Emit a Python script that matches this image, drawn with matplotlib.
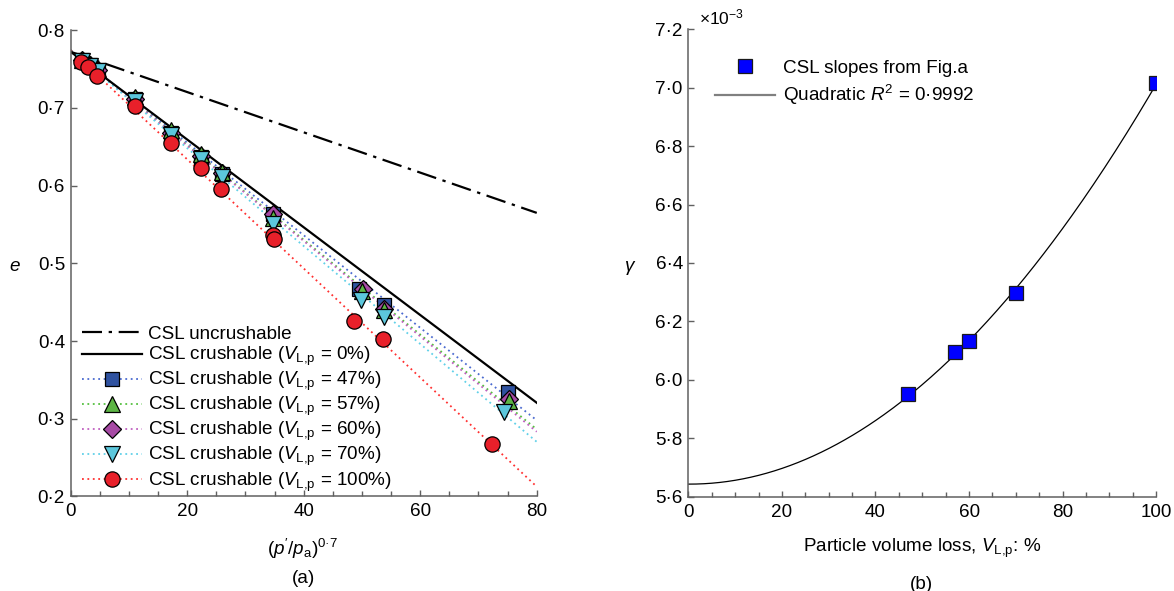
import numpy as np
import matplotlib
matplotlib.use("Agg")
import matplotlib.pyplot as plt
from matplotlib.lines import Line2D
from matplotlib.ticker import MultipleLocator, FuncFormatter

plt.rcParams['font.family'] = ['Liberation Sans', 'DejaVu Sans']
plt.rcParams['mathtext.fontset'] = 'custom'
plt.rcParams['mathtext.rm'] = 'Liberation Sans'
plt.rcParams['mathtext.it'] = 'Liberation Sans:italic'
plt.rcParams['mathtext.bf'] = 'Liberation Sans:bold'

# ---------------- data: panel (a) ----------------
x_range = [0, 80]
e0_uncrush = 0.772
slope_uncrush = 0.00259
e0_crush = 0.772          # intercept of CSL crushable (0 %)
e0_dotted = 0.774         # intercept of CSL lines for V_L,p > 0

vlp_labels = ["47%", "57%", "60%", "70%", "100%"]

x_47 = [1.9, 3.3, 4.7, 11.0, 17.3, 22.3, 26.0, 34.7, 49.5, 53.7, 75.1]
e_47 = [0.761, 0.755, 0.749, 0.711, 0.667, 0.637, 0.615, 0.563, 0.467, 0.446, 0.334]

x_57 = [1.9, 3.3, 4.7, 11.0, 17.3, 22.3, 26.0, 34.7, 50.0, 53.7, 75.3]
e_57 = [0.762, 0.756, 0.750, 0.714, 0.671, 0.641, 0.617, 0.558, 0.464, 0.440, 0.323]

x_60 = [1.9, 3.3, 4.7, 11.0, 17.3, 22.3, 26.0, 34.8, 50.1, 53.7, 75.2]
e_60 = [0.761, 0.755, 0.749, 0.711, 0.668, 0.638, 0.616, 0.564, 0.467, 0.441, 0.325]

x_70 = [1.9, 3.3, 4.7, 11.0, 17.3, 22.3, 26.0, 34.7, 49.8, 53.7, 74.3]
e_70 = [0.760, 0.754, 0.747, 0.709, 0.665, 0.634, 0.611, 0.551, 0.453, 0.431, 0.309]

x_100 = [1.8, 2.9, 4.6, 11.0, 17.3, 22.3, 25.8, 34.7, 34.9, 48.6, 53.6, 72.3]
e_100 = [0.759, 0.752, 0.741, 0.702, 0.655, 0.622, 0.595, 0.536, 0.531, 0.426, 0.403, 0.267]

# ---------------- data: panel (b) ----------------
vlp = [47, 57, 60, 70, 100]
gamma_e3 = [5.950, 6.095, 6.134, 6.296, 7.017]   # x 10^-3
gamma0_e3 = 5.643                                  # CSL crushable, V_L,p = 0 % (fit intercept)

# ---------------- figure ----------------
fig = plt.figure(figsize=(11.74, 5.91), dpi=100)
ax1 = fig.add_axes([0.0602, 0.1599, 0.397, 0.7893])
ax2 = fig.add_axes([0.5863, 0.1596, 0.3986, 0.7908])

spine_c = '#606060'
FS = 13.6
DOT = '\u00b7'
SUB = r'$V_{\mathrm{L{,}p}}$'

def style(ax):
    for s in ['top', 'right']:
        ax.spines[s].set_visible(False)
    for s in ['left', 'bottom']:
        ax.spines[s].set_color(spine_c)
        ax.spines[s].set_linewidth(1.1)
    ax.tick_params(axis='both', which='both', direction='in', color=spine_c,
                   width=1.0, labelsize=FS)
    ax.tick_params(axis='both', which='major', length=4)
    ax.tick_params(axis='both', which='minor', length=3.5)
    ax.tick_params(axis='x', pad=5)
    ax.tick_params(axis='y', pad=4)

dotfmt = FuncFormatter(lambda v, p: ("%.1f" % v).replace('.', DOT))

# ---- panel (a) ----
style(ax1)
xl = np.array(x_range, dtype=float)
DASHDOT = (0, (9, 3, 1.5, 3))
ax1.plot(xl, e0_uncrush - slope_uncrush * xl, color='black', lw=1.6, ls=DASHDOT, zorder=2)
ax1.plot(xl, e0_crush - gamma0_e3 * 1e-3 * xl, color='black', lw=1.6, zorder=2)

series = {
    '47': (x_47, e_47, 's', '#2f52a0', '#4a6ad0', 10.5),
    '57': (x_57, e_57, '^', '#5db545', '#55c040', 11),
    '60': (x_60, e_60, 'D', '#a74aa5', '#c060c0', 9),
    '70': (x_70, e_70, 'v', '#5cc7dc', '#60d0e8', 11),
    '100': (x_100, e_100, 'o', '#e8202a', '#ff3030', 11),
}
keys = ['47', '57', '60', '70', '100']
draw_order = ['47', '60', '57', '70', '100']

for k, g in zip(keys, gamma_e3):
    lc = series[k][4]
    ax1.plot(xl, e0_dotted - g * 1e-3 * xl, color=lc, lw=1.3, ls=(0, (1, 2)), zorder=1)
for i, k in enumerate(draw_order):
    xs, es, m, fc, lc, ms = series[k]
    ax1.plot(xs, es, ls='none', marker=m, ms=ms, mfc=fc, mec='black', mew=0.9, zorder=3 + i)

handles = [
    Line2D([], [], color='black', lw=1.6, ls=DASHDOT),
    Line2D([], [], color='black', lw=1.6),
]
labels = ['CSL uncrushable', 'CSL crushable (' + SUB + ' = 0%)']
for k, lab in zip(keys, vlp_labels):
    xs, es, m, fc, lc, ms = series[k]
    handles.append(Line2D([], [], color=lc, lw=1.3, ls=(0, (1, 2)), marker=m, ms=ms,
                          mfc=fc, mec='black', mew=0.9))
    labels.append('CSL crushable (' + SUB + ' = ' + lab + ')')

ax1.set_xlim(0, 80)
ax1.set_ylim(0.2, 0.8)
ax1.xaxis.set_major_locator(MultipleLocator(20))
ax1.xaxis.set_minor_locator(MultipleLocator(5))
ax1.yaxis.set_major_locator(MultipleLocator(0.1))
ax1.yaxis.set_major_formatter(dotfmt)
ax1.set_ylabel('e', style='italic', rotation=0, fontsize=FS, va='center', ha='center')
ax1.yaxis.set_label_coords(-0.1195, 0.492)
ax1.set_xlabel('$(p^{\\prime}/p_{\\mathrm{a}})^{\\mathrm{0' + DOT + '7}}$', fontsize=FS)
ax1.xaxis.set_label_coords(0.4985, -0.087)
ax1.text(0.4985, -0.175, '(a)', transform=ax1.transAxes, ha='center', va='center', fontsize=FS)
leg1 = ax1.legend(handles, labels, loc='lower left', bbox_to_anchor=(0.0, -0.018),
                  frameon=False, fontsize=FS, handlelength=3.2, handletextpad=0.3,
                  labelspacing=0.1, numpoints=1, borderaxespad=0.2)

# ---- panel (b) ----
style(ax2)
# quadratic fit with intercept fixed at gamma0 (least squares on the five points)
vx = np.asarray(vlp, dtype=float)
A = np.column_stack([vx, vx ** 2])
(b_lin, c_quad), *_ = np.linalg.lstsq(A, np.asarray(gamma_e3) - gamma0_e3, rcond=None)
xf = np.linspace(0, 100, 300)
ax2.plot(xf, gamma0_e3 + b_lin * xf + c_quad * xf ** 2, color='black', lw=0.9, zorder=2)
ax2.plot(vlp, gamma_e3, ls='none', marker='s', ms=10, mfc='#0000ff', mec='#1a1a1a',
         mew=0.9, zorder=3)
ax2.set_xlim(0, 100)
ax2.set_ylim(5.6, 7.2)
ax2.xaxis.set_major_locator(MultipleLocator(20))
ax2.xaxis.set_minor_locator(MultipleLocator(5))
ax2.yaxis.set_major_locator(MultipleLocator(0.2))
ax2.yaxis.set_major_formatter(dotfmt)
ax2.set_ylabel(r'$\gamma$', rotation=0, fontsize=FS, va='center', ha='center')
ax2.yaxis.set_label_coords(-0.1246, 0.489)
ax2.set_xlabel('Particle volume loss, ' + SUB + ': %', fontsize=FS)
ax2.xaxis.set_label_coords(0.499, -0.085)
ax2.text(0.499, -0.188, '(b)', transform=ax2.transAxes, ha='center', va='center', fontsize=FS)
ax2.text(0.022, 1.025, r'$\times$10$^{-3}$', transform=ax2.transAxes, ha='left',
         va='center', fontsize=12.5)
h2 = [Line2D([], [], ls='none', marker='s', ms=10, mfc='#0000ff', mec='#1a1a1a', mew=0.9),
      Line2D([], [], color='#808080', lw=1.6)]
l2 = ['CSL slopes from Fig.a', 'Quadratic $R^2$ = 0' + DOT + '9992']
ax2.legend(h2, l2, loc='upper left', bbox_to_anchor=(0.04, 0.952), frameon=False,
           fontsize=FS, handlelength=3.2, handletextpad=0.4, labelspacing=0.35,
           numpoints=1, borderaxespad=0.0)

fig.savefig('out.png', dpi=100)
